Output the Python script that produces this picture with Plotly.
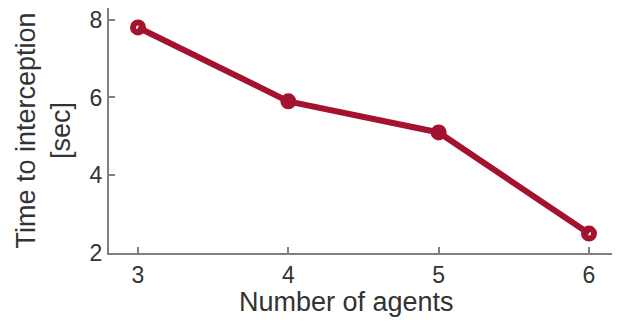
import plotly.graph_objects as go

# Interception time vs. team size
agents = [3, 4, 5, 6]
time_to_intercept = [7.8, 5.9, 5.1, 2.5]

x_ticks = [3, 4, 5, 6]
y_ticks = [2, 4, 6, 8]

line_color = "#A5122F"
axis_color = "#808080"
text_color = "#333333"

fig = go.Figure(
    go.Scatter(
        x=agents,
        y=time_to_intercept,
        mode="lines+markers",
        line=dict(color=line_color, width=6),
        marker=dict(symbol="circle-open", size=10, color=line_color,
                    line=dict(color=line_color, width=6)),
        showlegend=False,
    )
)

font_family = "Liberation Sans, Arial, sans-serif"

fig.update_layout(
    width=642,
    height=323,
    margin=dict(l=109, r=30, t=8, b=70),
    paper_bgcolor="white",
    plot_bgcolor="white",
    font=dict(family=font_family, color=text_color),
    annotations=[
        dict(
            text="Number of agents",
            xref="paper", yref="paper",
            x=0.473, y=0,
            xanchor="center", yanchor="top",
            yshift=-32,
            showarrow=False,
            font=dict(size=27, color=text_color),
        )
    ],
)

fig.update_xaxes(
    range=[2.807, 6.153],
    tickvals=x_ticks,
    ticktext=[str(v) for v in x_ticks],
    ticks="inside",
    ticklen=6,
    tickwidth=1.5,
    tickcolor=axis_color,
    showline=True,
    linecolor=axis_color,
    linewidth=2,
    showgrid=False,
    zeroline=False,
    tickfont=dict(size=23, color=text_color),
    automargin=False,
)

fig.update_yaxes(
    range=[2, 8.3],
    tickvals=y_ticks,
    ticktext=[str(v) for v in y_ticks],
    ticks="inside",
    ticklen=6,
    tickwidth=1.5,
    tickcolor=axis_color,
    showline=True,
    linecolor=axis_color,
    linewidth=2,
    showgrid=False,
    zeroline=False,
    tickfont=dict(size=23, color=text_color),
    title=dict(text="Time to interception<br>[sec]", font=dict(size=27, color=text_color), standoff=11),
    automargin=False,
)

fig.write_html("out.html")
